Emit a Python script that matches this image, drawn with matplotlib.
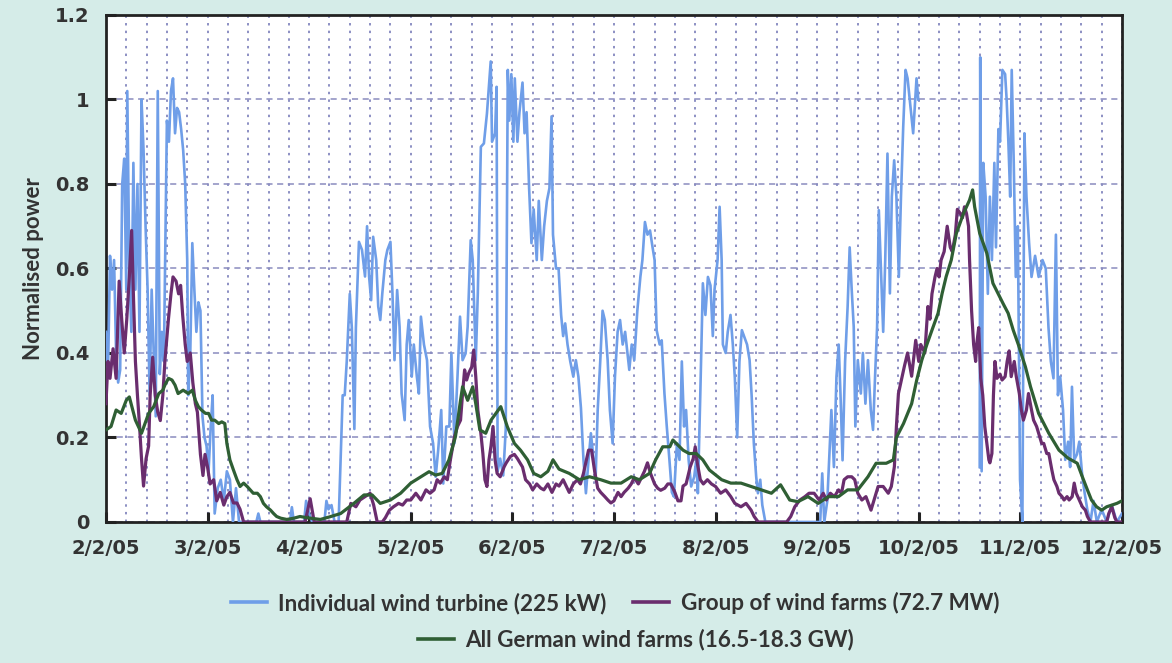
"""Normalised wind power: one turbine vs. wind farm group vs. all of Germany."""

import matplotlib
matplotlib.use("Agg")
import matplotlib.pyplot as plt
import numpy as np

# days since 2/2/05
DATE_LABELS = ["2/2/05", "3/2/05", "4/2/05", "5/2/05", "6/2/05", "7/2/05",
               "8/2/05", "9/2/05", "10/2/05", "11/2/05", "12/2/05"]

turbine_day = [
    0.00, 0.02, 0.04, 0.06, 0.08, 0.10, 0.12, 0.14, 0.16, 0.18, 0.20, 0.21, 0.23, 0.25,
    0.27, 0.29, 0.31, 0.33, 0.35, 0.37, 0.39, 0.41, 0.43, 0.45, 0.47, 0.49, 0.51, 0.53,
    0.55, 0.57, 0.60, 0.62, 0.64, 0.66, 0.68, 0.70, 0.72, 0.74, 0.76, 0.78, 0.80, 0.81,
    0.83, 0.85, 0.87, 0.89, 0.91, 0.93, 0.95, 0.97, 0.99, 1.01, 1.03, 1.05, 1.07, 1.10,
    1.13, 1.16, 1.19, 1.22, 1.25, 1.28, 1.31, 1.48, 1.50, 1.52, 1.81, 1.83, 1.85, 1.95,
    1.97, 2.00, 2.03, 2.15, 2.17, 2.19, 2.22, 2.25, 2.29,
    2.31, 2.33, 2.35, 2.37, 2.40, 2.42, 2.445, 2.46, 2.49, 2.52, 2.55, 2.57, 2.59, 2.61,
    2.63, 2.66, 2.68, 2.70, 2.72, 2.75, 2.77, 2.80, 2.82, 2.84, 2.866, 2.89, 2.91, 2.94,
    2.96, 2.98, 3.01, 3.03, 3.06, 3.08, 3.10, 3.13, 3.16, 3.19, 3.22, 3.245, 3.27, 3.30,
    3.32, 3.35, 3.38, 3.40, 3.43, 3.46, 3.485, 3.51, 3.54, 3.56, 3.59, 3.61, 3.64, 3.66,
    3.69, 3.72, 3.75, 3.787, 3.80, 3.83, 3.845, 3.855, 3.88, 3.91, 3.935, 3.955, 3.97,
    3.99, 4.01, 4.024, 4.05, 4.07, 4.10, 4.12, 4.14, 4.165, 4.188, 4.21, 4.24, 4.26,
    4.29, 4.313, 4.34, 4.365, 4.386, 4.40, 4.43, 4.455, 4.48, 4.50, 4.52, 4.543, 4.57,
    4.60, 4.625, 4.65, 4.675, 4.70, 4.724, 4.75, 4.773, 4.80, 4.82, 4.84, 4.865, 4.888,
    4.91, 4.938, 4.96, 4.987, 5.01, 5.036, 5.06, 5.086, 5.11, 5.151, 5.175, 5.20, 5.23,
    5.26, 5.28, 5.305, 5.33, 5.355, 5.38, 5.40, 5.42, 5.45, 5.47, 5.497, 5.52, 5.546,
    5.57, 5.59, 5.62, 5.645, 5.668, 5.69, 5.71, 5.735, 5.76, 5.79, 5.81, 5.826, 5.85,
    5.875, 5.90, 5.925, 5.95, 5.973, 5.99, 6.02, 6.04, 6.06, 6.072, 6.10, 6.12, 6.147,
    6.17, 6.19, 6.213, 6.235, 6.259, 6.28, 6.31, 6.335, 6.355, 6.377, 6.40, 6.417, 6.44,
    6.46, 6.49, 7.03, 7.05, 7.07, 7.10, 7.14, 7.165, 7.19, 7.212, 7.23, 7.25, 7.275,
    7.30, 7.32, 7.34, 7.36, 7.376, 7.40, 7.43, 7.45, 7.475, 7.50, 7.528, 7.55, 7.57,
    7.59, 7.607, 7.625, 7.65, 7.67, 7.692, 7.716, 7.735, 7.758, 7.78, 7.804, 7.825,
    7.847, 7.87, 7.89, 7.92, 7.945, 7.96, 7.978, 7.995, 8.30,
    8.60, 8.605, 8.619, 8.635, 8.658, 8.68, 8.70, 8.72, 8.744, 8.76, 8.784, 8.80, 8.823,
    8.85, 8.865, 8.882, 8.90, 8.915, 8.935, 8.955, 8.975, 8.997, 9.02, 9.04, 9.06, 9.086,
    9.11, 9.145, 9.18, 9.218, 9.25, 9.277, 9.30, 9.326, 9.35, 9.37, 9.392, 9.42, 9.442,
    9.47, 9.49, 9.508, 9.53, 9.557, 9.58, 9.61, 9.633, 9.66, 9.69, 9.72, 9.753, 9.80,
    9.85, 9.90, 9.95, 10.0,
]
turbine_power = [
    0.45, 0.35, 0.63, 0.55, 0.62, 0.40, 0.33, 0.36, 0.80, 0.86, 0.55, 1.02, 0.60, 0.45,
    0.85, 0.55, 0.80, 0.45, 1.00, 0.88, 0.70, 0.55, 0.30, 0.55, 0.40, 0.25, 1.02, 0.35,
    0.45, 0.38, 0.95, 0.90, 1.02, 1.05, 0.92, 0.98, 0.97, 0.93, 0.88, 0.80, 0.62, 0.30,
    0.40, 0.66, 0.55, 0.45, 0.52, 0.50, 0.25, 0.20, 0.18, 0.12, 0.22, 0.30, 0.02, 0.08,
    0.10, 0.05, 0.12, 0.10, 0.00, 0.08, 0.00, 0.00, 0.02, 0.00, 0.00, 0.035, 0.00, 0.00,
    0.05, 0.02, 0.00, 0.00, 0.05, 0.03, 0.04, 0.00, 0.00,
    0.15, 0.30, 0.30, 0.38, 0.54, 0.46, 0.22, 0.46, 0.663, 0.644, 0.581, 0.70, 0.581, 0.525,
    0.675, 0.62, 0.51, 0.478, 0.541, 0.62, 0.644, 0.663, 0.541, 0.383, 0.549, 0.462, 0.304, 0.241,
    0.42, 0.478, 0.344, 0.42, 0.344, 0.304, 0.486, 0.42, 0.383, 0.226, 0.186, 0.107, 0.17, 0.265,
    0.091, 0.226, 0.226, 0.399, 0.186, 0.344, 0.486, 0.383, 0.399, 0.462, 0.667, 0.62, 0.383, 0.541,
    0.888, 0.896, 0.967, 1.09, 0.90, 0.92, 1.03, 0.12, 0.15, 0.11, 0.22, 1.07, 0.95,
    1.06, 0.90, 1.05, 0.90, 0.97, 1.04, 0.92, 0.97, 0.79, 0.66, 0.74, 0.62, 0.76,
    0.62, 0.70, 0.76, 0.79, 0.96, 0.68, 0.60, 0.60, 0.49, 0.44, 0.47, 0.42, 0.38,
    0.344, 0.383, 0.344, 0.27, 0.147, 0.068, 0.147, 0.21, 0.147, 0.107, 0.265, 0.38, 0.50,
    0.478, 0.383, 0.265, 0.186, 0.344, 0.45, 0.478, 0.42, 0.45, 0.36, 0.42, 0.383, 0.50,
    0.58, 0.62, 0.71, 0.68, 0.69, 0.65, 0.62, 0.454, 0.42, 0.43, 0.304, 0.226, 0.147,
    0.07, 0.06, 0.186, 0.147, 0.38, 0.226, 0.265, 0.147, 0.084, 0.107, 0.147, 0.068, 0.304,
    0.565, 0.49, 0.58, 0.56, 0.44, 0.55, 0.62, 0.746, 0.62, 0.42, 0.40, 0.45, 0.49,
    0.42, 0.34, 0.20, 0.38, 0.454, 0.44, 0.42, 0.383, 0.30, 0.186, 0.107, 0.068, 0.10,
    0.04, 0.00, 0.00, 0.115, 0.00, 0.05, 0.265, 0.13, 0.344, 0.42, 0.30, 0.146, 0.38,
    0.51, 0.65, 0.55, 0.462, 0.226, 0.383, 0.304, 0.40, 0.28, 0.383, 0.265, 0.218, 0.344,
    0.462, 0.738, 0.62, 0.45, 0.62, 0.872, 0.541, 0.77, 0.856, 0.77, 0.58, 0.77,
    0.935, 1.07, 1.05, 0.98, 0.92, 0.98, 1.05, 1.00, np.nan,
    0.13, 1.10, 0.12, 0.85, 0.77, 0.54, 0.77, 0.62, 0.85, 0.65, 0.93, 0.90, 1.07,
    1.06, 1.00, 0.90, 0.77, 1.07, 0.85, 0.58, 0.70, 0.10, 0.00, 0.92, 0.77, 0.66,
    0.58, 0.63, 0.58, 0.62, 0.60, 0.46, 0.38, 0.34, 0.68, 0.30, 0.344, 0.265, 0.147,
    0.19, 0.13, 0.32, 0.147, 0.16, 0.19, 0.107, 0.068, 0.028, 0.00, 0.05, 0.00, 0.03,
    0.00, 0.04, 0.00, 0.02,
]

group_day = [
    0.00, 0.02, 0.04, 0.07, 0.10, 0.13, 0.155, 0.18, 0.205, 0.23, 0.253, 0.27, 0.29,
    0.31, 0.33, 0.35, 0.37, 0.395, 0.42, 0.435, 0.46, 0.485, 0.51, 0.535, 0.56, 0.58,
    0.615, 0.64, 0.66, 0.69, 0.715, 0.735, 0.755, 0.78, 0.80, 0.83, 0.855, 0.88, 0.90,
    0.93, 0.955, 0.975, 1.00, 1.025, 1.06, 1.09, 1.125, 1.16, 1.19, 1.22, 1.255, 1.29,
    1.32, 1.355, 1.96, 2.01, 2.05, 2.37, 2.41, 2.46, 2.50, 2.55, 2.60, 2.635, 2.67,
    2.72, 2.75, 2.79, 2.83, 2.88, 2.92, 2.96, 3.00, 3.05, 3.10, 3.15, 3.19, 3.23, 3.26,
    3.29, 3.33, 3.36, 3.39, 3.43, 3.46, 3.49, 3.51, 3.53, 3.55, 3.57, 3.60, 3.62, 3.64,
    3.66, 3.69, 3.71, 3.73, 3.75, 3.77, 3.79, 3.81, 3.83, 3.85, 3.88, 3.92, 3.94, 3.98,
    4.02, 4.05, 4.10, 4.13, 4.17, 4.20, 4.24, 4.28, 4.31, 4.35, 4.39, 4.43, 4.46, 4.50,
    4.53, 4.56, 4.60, 4.64, 4.67, 4.70, 4.75, 4.78, 4.81, 4.84, 4.87, 4.91, 4.94, 4.97,
    5.00, 5.04, 5.07, 5.10, 5.14, 5.17, 5.20, 5.24, 5.27, 5.30, 5.33, 5.36, 5.40, 5.43,
    5.46, 5.50, 5.53, 5.56, 5.60, 5.63, 5.66, 5.68, 5.71, 5.75, 5.78, 5.80, 5.82, 5.85,
    5.88, 5.92, 5.96, 6.00, 6.05, 6.10, 6.15, 6.19, 6.25, 6.30, 6.35, 6.38, 6.42, 6.70,
    6.74, 6.78, 6.83, 6.88, 6.92, 6.97, 7.02, 7.06, 7.09, 7.13, 7.17, 7.21, 7.24, 7.265,
    7.30, 7.34, 7.37, 7.40, 7.44, 7.48, 7.53, 7.56, 7.60, 7.65, 7.70, 7.73, 7.76, 7.78,
    7.80, 7.83, 7.86, 7.89, 7.93, 7.97, 8.00, 8.02, 8.06, 8.09, 8.11, 8.13, 8.16, 8.18,
    8.20, 8.22, 8.25, 8.28, 8.31, 8.33, 8.36, 8.38, 8.41, 8.43, 8.45, 8.47, 8.49, 8.50,
    8.52, 8.54, 8.56, 8.57, 8.59, 8.61, 8.63, 8.65, 8.67, 8.69, 8.70, 8.72, 8.735, 8.75,
    8.77, 8.80, 8.82, 8.85, 8.87, 8.89, 8.91, 8.94, 8.96, 8.99, 9.01, 9.03, 9.06, 9.08,
    9.11, 9.13, 9.16, 9.18, 9.21, 9.23, 9.26, 9.28, 9.31, 9.33, 9.36, 9.38, 9.41, 9.43,
    9.46, 9.48, 9.51, 9.53, 9.55, 9.58, 9.61, 9.64, 9.66, 9.69, 9.85, 9.87, 9.90, 9.93,
    9.95, 10.0,
]
group_power = [
    0.28, 0.38, 0.34, 0.41, 0.34, 0.57, 0.48, 0.40, 0.48, 0.58, 0.69, 0.54, 0.38,
    0.30, 0.23, 0.15, 0.085, 0.15, 0.18, 0.30, 0.39, 0.30, 0.26, 0.24, 0.30, 0.38,
    0.48, 0.54, 0.58, 0.57, 0.54, 0.56, 0.49, 0.42, 0.38, 0.40, 0.33, 0.28, 0.26,
    0.16, 0.11, 0.16, 0.13, 0.09, 0.10, 0.05, 0.07, 0.04, 0.06, 0.07, 0.045, 0.045,
    0.03, 0.00, 0.00, 0.055, 0.00, 0.00, 0.044, 0.036, 0.052, 0.06, 0.068, 0.04, 0.00,
    0.00, 0.01, 0.028, 0.036, 0.044, 0.04, 0.052, 0.052, 0.068, 0.052, 0.076, 0.068, 0.076, 0.10,
    0.092, 0.107, 0.10, 0.147, 0.202, 0.226, 0.241, 0.304, 0.36, 0.336, 0.352, 0.367, 0.407, 0.344,
    0.265, 0.21, 0.162, 0.10, 0.084, 0.147, 0.18, 0.226, 0.147, 0.115, 0.107, 0.131, 0.14, 0.155,
    0.16, 0.15, 0.13, 0.10, 0.09, 0.076, 0.09, 0.08, 0.076, 0.09, 0.07, 0.09, 0.085, 0.10,
    0.085, 0.07, 0.09, 0.10, 0.09, 0.115, 0.17, 0.17, 0.12, 0.08, 0.07, 0.06, 0.052, 0.045,
    0.05, 0.07, 0.06, 0.07, 0.08, 0.09, 0.105, 0.09, 0.105, 0.12, 0.14, 0.115, 0.09, 0.08,
    0.075, 0.08, 0.09, 0.09, 0.07, 0.05, 0.05, 0.085, 0.09, 0.13, 0.15, 0.178, 0.14, 0.10,
    0.09, 0.10, 0.09, 0.084, 0.068, 0.076, 0.06, 0.044, 0.036, 0.044, 0.028, 0.013, 0.00, 0.00,
    0.013, 0.036, 0.052, 0.06, 0.068, 0.068, 0.052, 0.068, 0.052, 0.068, 0.06, 0.076, 0.068, 0.10,
    0.107, 0.107, 0.10, 0.068, 0.052, 0.06, 0.028, 0.052, 0.084, 0.084, 0.068, 0.084, 0.131, 0.226,
    0.304, 0.337, 0.37, 0.40, 0.345, 0.43, 0.38, 0.42, 0.40, 0.51, 0.48, 0.54, 0.58, 0.60,
    0.58, 0.62, 0.64, 0.70, 0.65, 0.64, 0.68, 0.74, 0.73, 0.72, 0.746, 0.73, 0.70, 0.62,
    0.50, 0.42, 0.38, 0.42, 0.46, 0.34, 0.30, 0.226, 0.186, 0.147, 0.14, 0.162, 0.30, 0.38,
    0.34, 0.35, 0.336, 0.344, 0.38, 0.405, 0.344, 0.38, 0.344, 0.304, 0.265, 0.241, 0.265, 0.304,
    0.265, 0.241, 0.226, 0.21, 0.186, 0.186, 0.162, 0.162, 0.123, 0.10, 0.084, 0.068, 0.06, 0.052,
    0.06, 0.052, 0.06, 0.092, 0.068, 0.052, 0.036, 0.028, 0.013, 0.00, 0.00, 0.02, 0.036, 0.01,
    0.00, 0.00,
]

germany_day = [
    0.00, 0.05, 0.10, 0.15, 0.20, 0.23, 0.29, 0.35, 0.42, 0.47, 0.52, 0.56, 0.58, 0.615,
    0.65, 0.68, 0.71, 0.76, 0.81, 0.85, 0.88, 0.91, 0.94, 0.98, 1.01, 1.04, 1.07, 1.11,
    1.14, 1.17, 1.19, 1.22, 1.255, 1.29, 1.32, 1.355, 1.39, 1.42, 1.45, 1.49, 1.52, 1.55,
    1.58, 1.62, 1.65, 1.68, 1.72, 1.78, 1.85, 1.91, 1.98, 2.11, 2.20, 2.31, 2.44, 2.54,
    2.62, 2.70, 2.80, 2.90, 3.00, 3.10, 3.18, 3.245, 3.31, 3.376, 3.44, 3.49, 3.51, 3.56,
    3.61, 3.64, 3.68, 3.738, 3.79, 3.886, 3.95, 4.02, 4.08, 4.15, 4.21, 4.28, 4.35, 4.40,
    4.46, 4.56, 4.66, 4.76, 4.87, 4.97, 5.07, 5.17, 5.25, 5.35, 5.41, 5.48, 5.55, 5.58,
    5.68, 5.74, 5.81, 5.875, 5.94, 6.06, 6.15, 6.25, 6.35, 6.45, 6.55, 6.64, 6.73, 6.81,
    6.91, 7.01, 7.11, 7.21, 7.30, 7.40, 7.50, 7.58, 7.68, 7.75, 7.78, 7.85, 7.93, 7.98,
    8.03, 8.08, 8.13, 8.19, 8.23, 8.27, 8.32, 8.37, 8.44, 8.50, 8.53, 8.55, 8.60, 8.67,
    8.73, 8.78, 8.83, 8.88, 8.93, 8.98, 9.05, 9.10, 9.18, 9.28, 9.38, 9.47, 9.56, 9.61,
    9.66, 9.70, 9.75, 9.80, 9.85, 9.90, 9.95, 10.0,
]
germany_power = [
    0.218, 0.226, 0.265, 0.257, 0.288, 0.296, 0.241, 0.21, 0.257, 0.273, 0.304, 0.312, 0.324, 0.34,
    0.336, 0.324, 0.304, 0.312, 0.304, 0.312, 0.288, 0.273, 0.265, 0.257, 0.257, 0.241, 0.241, 0.233,
    0.237, 0.233, 0.186, 0.147, 0.123, 0.10, 0.084, 0.092, 0.084, 0.076, 0.068, 0.068, 0.06, 0.044,
    0.036, 0.028, 0.02, 0.013, 0.009, 0.006, 0.009, 0.013, 0.01, 0.006, 0.012, 0.02, 0.044, 0.064,
    0.064, 0.044, 0.052, 0.068, 0.092, 0.107, 0.119, 0.111, 0.115, 0.147, 0.202, 0.288, 0.32, 0.288,
    0.32, 0.28, 0.218, 0.21, 0.241, 0.273, 0.226, 0.186, 0.17, 0.147, 0.115, 0.107, 0.12, 0.147,
    0.125, 0.115, 0.10, 0.107, 0.10, 0.092, 0.092, 0.107, 0.10, 0.115, 0.147, 0.178, 0.178, 0.194,
    0.17, 0.162, 0.162, 0.147, 0.123, 0.10, 0.092, 0.092, 0.084, 0.076, 0.068, 0.088, 0.052, 0.048,
    0.06, 0.044, 0.06, 0.06, 0.076, 0.076, 0.107, 0.139, 0.139, 0.147, 0.20, 0.233, 0.28, 0.336,
    0.383, 0.42, 0.454, 0.494, 0.541, 0.581, 0.62, 0.683, 0.73, 0.762, 0.786, 0.746, 0.683, 0.636,
    0.565, 0.541, 0.517, 0.494, 0.454, 0.42, 0.367, 0.32, 0.257, 0.21, 0.17, 0.151, 0.139, 0.107,
    0.076, 0.052, 0.036, 0.028, 0.036, 0.04, 0.044, 0.05,
]

SERIES_LABELS = [
    "Individual wind turbine (225 kW)",
    "Group of wind farms (72.7 MW)",
    "All German wind farms (16.5-18.3 GW)",
]
COLORS = ["#6f9ee8", "#6a2d6e", "#2f5f34"]
BACKGROUND = "#d5ece8"
TEXT = "#333333"

fig = plt.figure(figsize=(11.72, 6.63), dpi=100, facecolor=BACKGROUND)
ax = fig.add_axes([0.0904, 0.2127, 0.8669, 0.7647])

turbine, = ax.plot(turbine_day, turbine_power, color=COLORS[0], lw=1.9, zorder=3)
group, = ax.plot(group_day, group_power, color=COLORS[1], lw=2.3, zorder=4)
germany, = ax.plot(germany_day, germany_power, color=COLORS[2], lw=2.3, zorder=5)

ax.set_xlim(0, 10)
ax.set_ylim(0, 1.2)
ax.set_xticks(np.arange(len(DATE_LABELS)))
ax.set_xticklabels(DATE_LABELS)
ax.set_xticks(np.arange(0, 10.001, 0.2), minor=True)
ax.set_yticks(np.arange(0, 1.21, 0.2))
ax.set_yticklabels(["0", "0.2", "0.4", "0.6", "0.8", "1", "1.2"])

ax.grid(axis="x", which="both", color="#6d72b3", linestyle=(0, (1.6, 3.4)), linewidth=1.1)
ax.grid(axis="y", which="major", color="#8a8cbf", linestyle=(0, (4, 3)), linewidth=1.1)
ax.set_axisbelow(True)

ax.tick_params(which="major", direction="in", length=7, width=2.2, color="#222222",
               labelsize=14, labelcolor=TEXT, pad=12)
ax.tick_params(which="minor", length=0)
for label in ax.get_xticklabels() + ax.get_yticklabels():
    label.set_fontweight("bold")
for spine in ax.spines.values():
    spine.set_linewidth(2.0)
    spine.set_color("#222222")

ax.set_ylabel("Normalised power", family="Lato", fontweight="bold", fontsize=16,
              color=TEXT, labelpad=8)

legend_font = {"family": "Lato", "weight": "bold", "size": 16.2}
first = fig.legend([turbine, group], SERIES_LABELS[:2], loc="center",
                   bbox_to_anchor=(615 / 1172, 1 - 603 / 663), ncol=2, frameon=False,
                   prop=legend_font, handlelength=1.6, handletextpad=0.5,
                   columnspacing=1.2, labelcolor=TEXT)
second = fig.legend([germany], SERIES_LABELS[2:], loc="center",
                    bbox_to_anchor=(636 / 1172, 1 - 640 / 663), frameon=False,
                    prop=legend_font, handlelength=1.6, handletextpad=0.5,
                    labelcolor=TEXT)
for leg in (first, second):
    for handle in leg.legend_handles:
        handle.set_linewidth(2.6)

fig.savefig("out.png", dpi=100, facecolor=BACKGROUND)
